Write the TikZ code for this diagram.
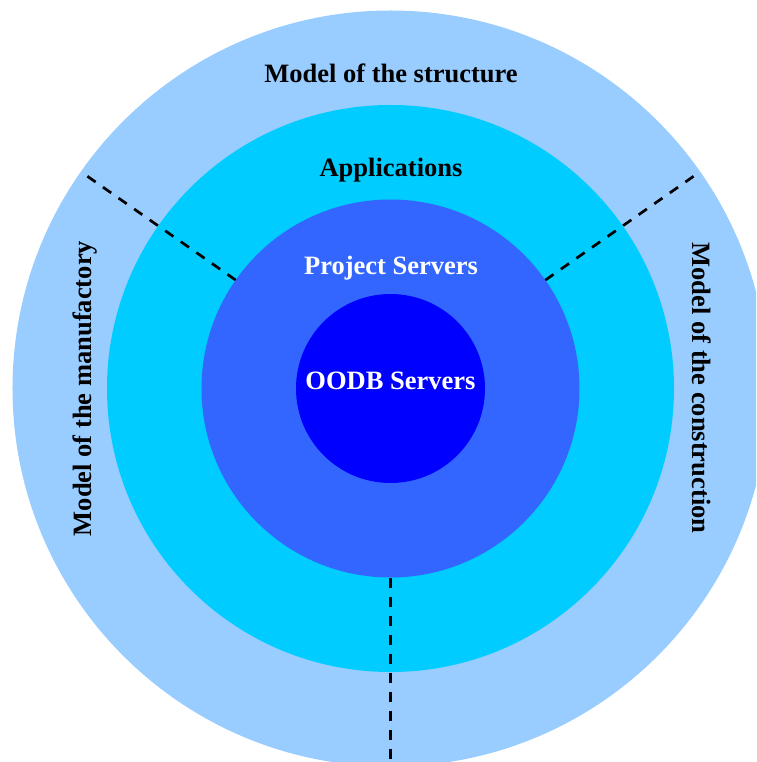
\documentclass[tikz,border=0pt]{standalone}
\usepackage{fontspec}
\setmainfont{Liberation Serif}
\usetikzlibrary{calc}
\definecolor{structcol}{HTML}{99CCFF}
\definecolor{appcol}{HTML}{00CCFF}
\definecolor{projcol}{HTML}{3366FF}
\definecolor{oodbcol}{HTML}{0000FF}
\tikzset{%
  ring/.style    = {circle, draw = none, inner sep = 0pt, outer sep = 0pt},
  lbl/.style     = {font = \bfseries\fontsize{26.5}{32}\selectfont, anchor = base, inner sep = 0pt},
  divline/.style = {line width = 2.7pt, dash pattern = on 10pt off 9pt}
}

\begin{document}
\begin{tikzpicture}[x=1pt, y=1pt]
    \useasboundingbox (-390.5,-373.5) rectangle (365.5,388.5);
    \clip (-390.5,-373.5) rectangle (365.5,388.5);

    %rings
    \node[ring, fill = structcol, minimum size = 756pt] (struct) at (0, 0) {};
    \node[ring, fill = appcol, minimum size = 567pt] (apps) at (0, 0) {};
    \node[ring, fill = projcol, minimum size = 378pt] (proj) at (0, 0) {};
    \node[ring, fill = oodbcol, minimum size = 189pt] (oodb) at (0, 0) {};

    %dividers
    \coordinate (manuend) at (145:372);
    \coordinate (consend) at (35:372);
    \coordinate (botend) at (270:374);
    \draw[divline] (proj.145) -- (manuend);
    \draw[divline] (proj.35) -- (consend);
    \draw[divline] (proj.270) -- (botend);

    %labels
    \node[lbl] (tstruct) at (0.5, 305.5) {Model of the structure};
    \node[lbl] (tapps) at (0.5, 211.8) {Applications};
    \node[lbl, text = white] (tproj) at (0.5, 113.5) {Project Servers};
    \node[lbl, text = white] (toodb) at (0, -0.8) {OODB Servers};
    \node[lbl, rotate = 90] (tmanu) at (-298.8, 0) {Model of the manufactory};
    \node[lbl, rotate = -90] (tcons) at (302.2, 0.5) {Model of the construction};
\end{tikzpicture}
\end{document}
